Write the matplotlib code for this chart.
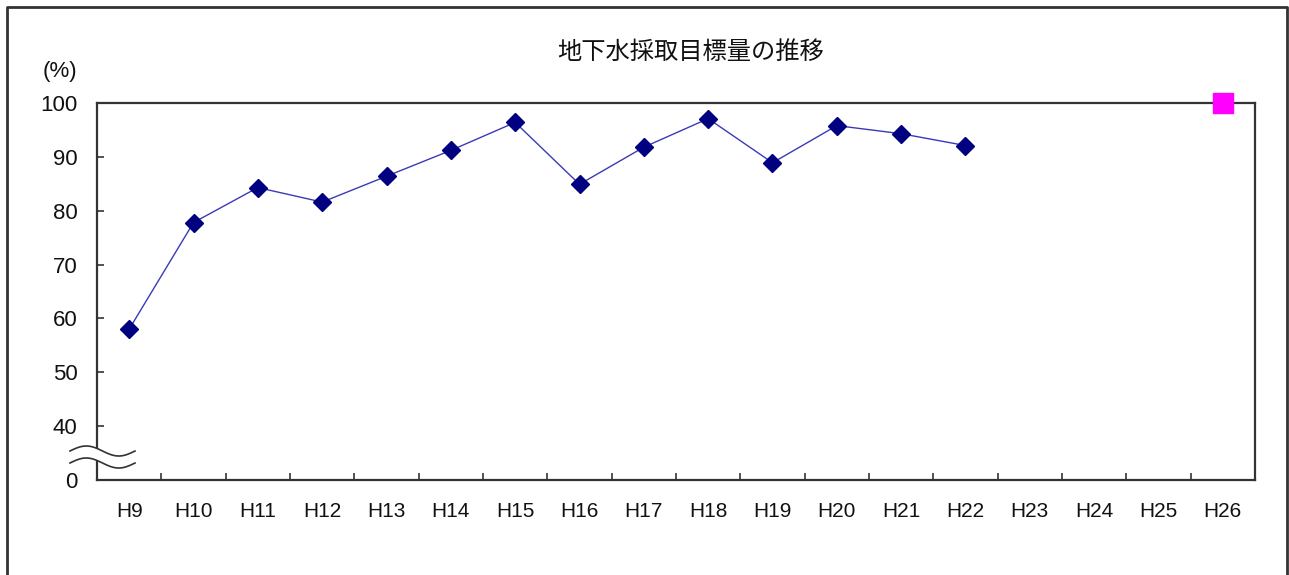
import matplotlib
matplotlib.use("Agg")
import matplotlib.pyplot as plt
import numpy as np
from matplotlib.lines import Line2D
from matplotlib.patches import Polygon

# ---- data ----
categories = ["H9", "H10", "H11", "H12", "H13", "H14", "H15", "H16", "H17",
              "H18", "H19", "H20", "H21", "H22", "H23", "H24", "H25", "H26"]
actual = [58.0, 77.8, 84.3, 81.6, 86.4, 91.2, 96.4, 84.9, 91.8,
          97.1, 88.9, 95.8, 94.3, 92.1]
target_cat = ["H26"]
target_val = [100]
ytick_vals = [30, 40, 50, 60, 70, 80, 90, 100]     # 30 = axis base (shown as 0, broken axis)
ytick_labels = ["0", "40", "50", "60", "70", "80", "90", "100"]
title = "地下水採取目標量の推移"
unit = "(%)"

W, H = 1289, 575
fig = plt.figure(figsize=(W / 100, H / 100), dpi=100)
fig.patch.set_facecolor("white")

def fx(x):
    return x / W

def fy(y):
    return 1 - y / H

ax = fig.add_axes([fx(97), fy(480), fx(1255) - fx(97), fy(103) - fy(480)])
ax.set_facecolor("white")

xpos = np.arange(len(categories))
ax.plot(xpos[:len(actual)], actual, color="#3a3ab8", lw=1.0, zorder=3)
ax.plot(xpos[:len(actual)], actual, ls="none", marker="D", ms=9,
        mfc="#000080", mec="#000080", zorder=4)
tx = [categories.index(c) for c in target_cat]
ax.plot(tx, target_val, ls="none", marker="s", ms=14, mfc="#ff00ff",
        mec="#ff00ff", zorder=5, clip_on=False)

ax.set_xlim(-0.5, len(categories) - 0.5)
ax.set_ylim(30, 100)

ax.set_xticks(xpos)
ax.set_xticklabels(categories)
ax.set_xticks(np.arange(0.5, len(categories) - 0.5, 1.0), minor=True)
ax.tick_params(axis="x", which="major", length=0, pad=16,
               labelsize=15, labelcolor="#111111")
ax.tick_params(axis="x", which="minor", direction="in", length=5,
               width=1.2, color="#333333")

ax.set_yticks(ytick_vals)
ax.set_yticklabels(ytick_labels)
ax.tick_params(axis="y", direction="in", length=5, width=1.2,
               color="#333333", pad=14, labelsize=16, labelcolor="#111111")

for lab in ax.get_xticklabels() + ax.get_yticklabels():
    lab.set_fontfamily(["Liberation Sans", "DejaVu Sans"])

for s in ax.spines.values():
    s.set_color("#333333")
    s.set_linewidth(1.6)

# title and unit
fig.text(fx(691), fy(52), title, ha="center", va="center", fontsize=17.5,
         family=["Noto Sans CJK JP", "DejaVu Sans"], color="#111111")
fig.text(fx(60), fy(72), unit, ha="center", va="center", fontsize=16,
         family=["Liberation Sans", "DejaVu Sans"], color="#111111")

# axis break (wavy lines)
t = np.linspace(0, 1, 80)
wx = 70 + 65 * t
wave = -5 * np.sin(2 * np.pi * t)
up = 451 + wave
lo = 463 + wave
poly = np.vstack([np.column_stack([fx(wx), fy(up)]),
                  np.column_stack([fx(wx[::-1]), fy(lo[::-1])])])
fig.add_artist(Polygon(poly, closed=True, facecolor="white", edgecolor="none",
                       transform=fig.transFigure, zorder=10))
fig.add_artist(Line2D(fx(wx), fy(up), color="#333333", lw=1.2,
                      transform=fig.transFigure, zorder=11))
fig.add_artist(Line2D(fx(wx), fy(lo), color="#333333", lw=1.2,
                      transform=fig.transFigure, zorder=11))

# outer frame
fig.add_artist(Line2D([fx(7), fx(7), fx(1287), fx(1287)],
                      [fy(575), fy(7), fy(7), fy(575)],
                      color="#333333", lw=2.0, transform=fig.transFigure))

fig.savefig("out.png", dpi=100, facecolor="white")
